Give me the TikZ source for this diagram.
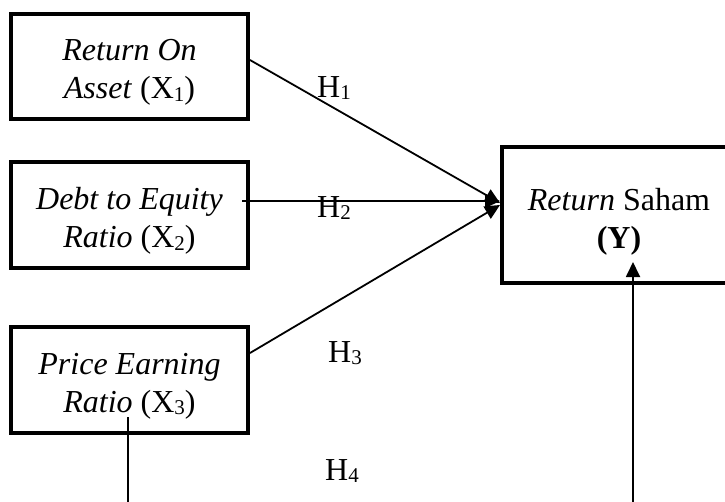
\documentclass[tikz,border=0pt]{standalone}
\usepackage{fontspec}
\setmainfont{Liberation Serif}
\usetikzlibrary{arrows.meta,calc}
\newcommand\sbs[1]{\raisebox{-2.5pt}{\fontsize{21}{21}\selectfont #1}}
\begin{document}
\begin{tikzpicture}[x=1pt,y=-1pt,
  txt/.style={font=\fontsize{32}{38}\selectfont},
  varbox/.style={draw,line width=4pt,inner sep=0pt},
  boxtext/.style={align=center,txt,inner sep=0pt},
  arr/.style={line width=1.8pt,-{Triangle[length=15pt,width=14pt]}},
  ln/.style={line width=1.8pt},
  lab/.style={txt,anchor=base west,inner sep=0pt}]
\useasboundingbox (0,0) rectangle (725,501);
\clip (0,0) rectangle (725,501);
\node[varbox,minimum width=237pt,minimum height=105pt] (x1) at (129.5,66.5) {};
\node[varbox,minimum width=237pt,minimum height=106pt] (x2) at (129.5,215) {};
\node[varbox,minimum width=237pt,minimum height=106pt] (x3) at (129.5,380) {};
\node[varbox,minimum width=234pt,minimum height=136pt] (y) at (619,215) {};
\node[boxtext] (x1t) at ($(x1.center)+(0,6)$) {\textit{Return On}\\\textit{Asset} (X\sbs{1})};
\node[boxtext] (x2t) at ($(x2.center)+(0,6)$) {\textit{Debt to Equity}\\\textit{Ratio} (X\sbs{2})};
\node[boxtext] (x3t) at ($(x3.center)+(0,6)$) {\textit{Price Earning}\\\textit{Ratio} (X\sbs{3})};
\node[boxtext] (yt) at ($(y.center)+(0,7)$) {\textit{Return} Saham\\\textbf{(Y)}};
\coordinate (s1) at ($(x1.east)+(0,-6.5)$);
\coordinate (s2) at ($(x2.east)+(-8,-14)$);
\coordinate (s3) at ($(x3.east)+(0,-27)$);
\coordinate (e1) at ($(y.west)+(0,-12)$);
\coordinate (e2) at ($(y.west)+(0,-14)$);
\coordinate (e3) at ($(y.west)+(0,-10)$);
\draw[arr] (s1) -- (e1);
\draw[arr] (s2) -- (e2);
\draw[arr] (s3) -- (e3);
\coordinate (v1) at ($(x3.center)+(-1.5,37)$);
\coordinate (v1b) at (128,505);
\draw[ln] (v1) -- (v1b);
\coordinate (v2) at ($(y.south)+(14,-23)$);
\coordinate (v2b) at (633,505);
\draw[arr] (v2b) -- (v2);
\node[lab] (h1) at (317,97) {H\sbs{1}};
\node[lab] (h2) at (317,217) {H\sbs{2}};
\node[lab] (h3) at (328,362) {H\sbs{3}};
\node[lab] (h4) at (325,480) {H\sbs{4}};
\end{tikzpicture}
\end{document}
